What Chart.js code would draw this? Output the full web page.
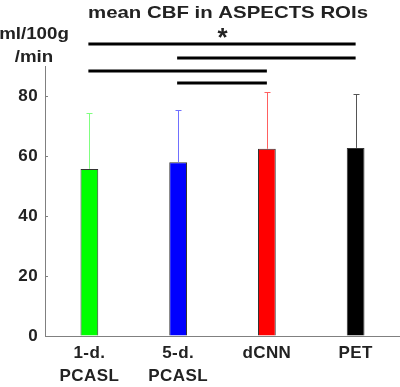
<!DOCTYPE html>
<html>
<head>
<meta charset="utf-8">
<script src="https://cdn.jsdelivr.net/npm/chart.js@4/dist/chart.umd.min.js"></script>
<style>
  html, body { margin: 0; padding: 0; background: #fff; }
  #wrap { width: 400px; height: 387px; position: relative; }
</style>
</head>
<body>
<div id="wrap"><canvas id="cbfChart"></canvas></div>
<script>
  const categories = [['1-d.', 'PCASL'], ['5-d.', 'PCASL'], 'dCNN', 'PET'];
  const meanCBF = [55.7, 57.9, 62.4, 62.7];
  const sdCBF = [18.5, 17.3, 18.8, 18.0];
  const yTicks = [0, 20, 40, 60, 80];
  // significance brackets: [from index, to index, height in ml/100g/min]
  const sigPairs = [[0, 3, 97.3], [1, 3, 92.7], [0, 2, 88.3], [1, 2, 84.3]];

  const barColors = ['#00ff00', '#0000ff', '#ff0000', '#000000'];
  const errColors = ['#80ff80', '#7070ff', '#ff6060', '#555555'];
  const textColor = '#222222';
  const axisColor = '#808080';
  const font = 'Liberation Sans, Arial, Helvetica, sans-serif';

  // draw text squeezed/stretched horizontally around (cx, cy)
  function wideText(ctx, str, cx, cy, sx) {
    ctx.save();
    ctx.translate(cx, cy);
    ctx.scale(sx, 1);
    ctx.fillText(str, 0, 0);
    ctx.restore();
  }

  const extras = {
    id: 'extras',
    beforeDraw(chart) {
      // reference lettering is a bit wider than Liberation Sans
      chart.ctx.letterSpacing = '0.4px';
    },
    afterDatasetsDraw(chart) {
      const ctx = chart.ctx;
      const x = chart.scales.x;
      const y = chart.scales.y;
      ctx.save();

      // error bars (upper half only)
      meanCBF.forEach((m, i) => {
        const cx = Math.round(x.getPixelForValue(i)) + 0.5;
        const y0 = y.getPixelForValue(m);
        const y1 = Math.round(y.getPixelForValue(m + sdCBF[i])) + 0.5;
        ctx.strokeStyle = errColors[i];
        ctx.lineWidth = 1;
        ctx.beginPath();
        ctx.moveTo(cx, y0);
        ctx.lineTo(cx, y1);
        ctx.moveTo(cx - 3, y1);
        ctx.lineTo(cx + 3, y1);
        ctx.stroke();
      });

      // inner y ticks
      ctx.strokeStyle = axisColor;
      yTicks.forEach(v => {
        const py = Math.round(y.getPixelForValue(v)) + 0.5;
        ctx.beginPath();
        ctx.moveTo(y.right, py);
        ctx.lineTo(y.right + 3, py);
        ctx.stroke();
      });

      // significance lines
      ctx.strokeStyle = '#000';
      ctx.lineWidth = 3;
      sigPairs.forEach(([a, b, h]) => {
        const py = y.getPixelForValue(h);
        ctx.beginPath();
        ctx.moveTo(x.getPixelForValue(a) - 1, py);
        ctx.lineTo(x.getPixelForValue(b), py);
        ctx.stroke();
      });

      ctx.fillStyle = textColor;
      ctx.textAlign = 'center';
      ctx.textBaseline = 'alphabetic';
      ctx.letterSpacing = '0px';
      ctx.font = 'bold 26px ' + font;
      ctx.fillText('*', (x.getPixelForValue(1) + x.getPixelForValue(2)) / 2, 46);

      ctx.font = 'bold 17px ' + font;
      wideText(ctx, 'mean CBF in ASPECTS ROIs', 228, 18, 1.2);

      ctx.font = 'bold 16px ' + font;
      wideText(ctx, 'ml/100g', 34, 39, 1.17);
      wideText(ctx, '/min', 34, 62, 1.17);
      ctx.restore();
    }
  };

  new Chart(document.getElementById('cbfChart'), {
    type: 'bar',
    data: {
      labels: categories,
      datasets: [{
        data: meanCBF,
        backgroundColor: barColors,
        borderColor: '#333333',
        borderWidth: 1,
        barPercentage: 0.2,
        categoryPercentage: 1
      }]
    },
    options: {
      responsive: true,
      maintainAspectRatio: false,
      animation: false,
      layout: { padding: { top: 66, left: 0, right: 0, bottom: 0 } },
      plugins: {
        legend: { display: false },
        tooltip: { enabled: false }
      },
      scales: {
        x: {
          afterFit: s => { s.height = 51; },
          grid: { drawOnChartArea: false, drawTicks: false },
          border: { color: axisColor, width: 1 },
          ticks: {
            color: textColor,
            padding: 6,
            maxRotation: 0,
            font: { family: font, size: 17, weight: 'bold', lineHeight: 1.36 }
          }
        },
        y: {
          min: 0,
          max: 90,
          afterFit: s => { s.width = 45; },
          afterBuildTicks: s => { s.ticks = yTicks.map(v => ({ value: v })); },
          grid: { drawOnChartArea: false, drawTicks: false },
          border: { color: axisColor, width: 1 },
          ticks: {
            color: textColor,
            padding: 7,
            font: { family: font, size: 17, weight: 'bold' }
          }
        }
      }
    },
    plugins: [extras]
  });
</script>
</body>
</html>
